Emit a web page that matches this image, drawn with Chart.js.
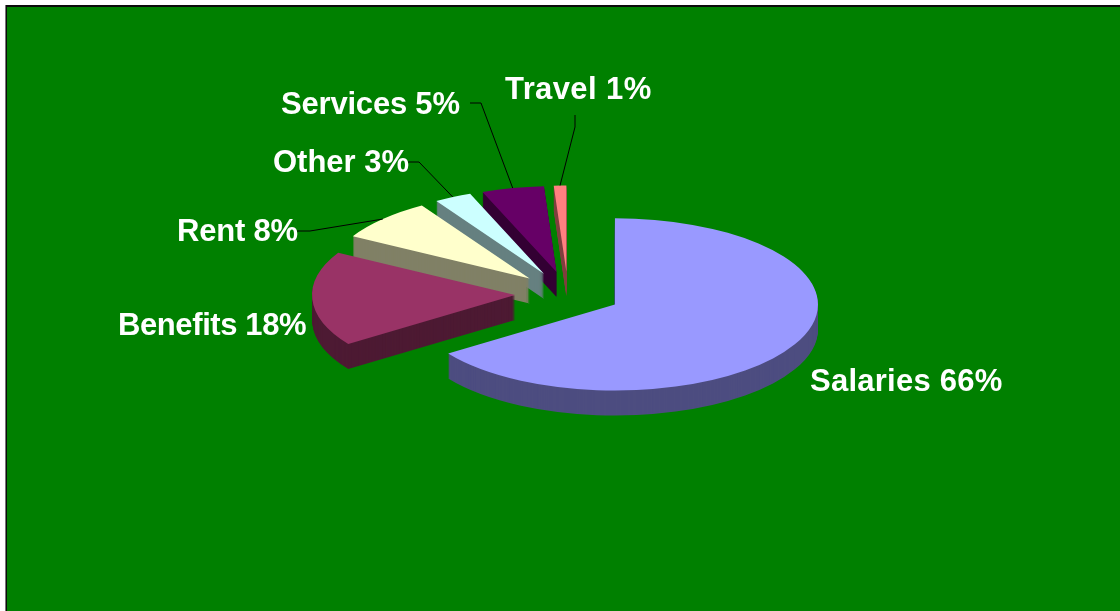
<!DOCTYPE html>
<html>
<head>
<meta charset="utf-8">
<style>
html, body { margin: 0; background: #fff; overflow: hidden; }
#panel { position: absolute; left: 6px; top: 5px; width: 1120px; height: 611px; background: #008000; border-left: 1px solid #0b0b0b; border-top: 2px solid #0b0b0b; box-shadow: -1px 0 0 #777; }
#chart { position: absolute; left: 0; top: 0; }
</style>
<script src="https://cdn.jsdelivr.net/npm/chart.js@4"></script>
</head>
<body>
<div id="panel"></div>
<canvas id="chart" width="1120" height="611"></canvas>
<script>
// data
var categories = ['Salaries', 'Benefits', 'Rent', 'Other', 'Services', 'Travel'];
var percents = [66, 18, 8, 3, 5, 1];
var topColors = ['#9999ff', '#993366', '#ffffcc', '#ccffff', '#660066', '#ff8080'];
var sideColors = ['#4d4d80', '#4d1a33', '#808066', '#668080', '#330033', '#804040'];

// label placement (left edge, baseline), and elbow of the leader line if it has one
var labelX = [810, 118, 177, 273, 281, 505];
var labelY = [391, 335, 241, 172, 114, 99];
var labelSpacing = [0.25, -0.4, -0.2, 0, -0.2, 0.4];
var leaderFrom = [null, null, [297, 231], [408, 162], [470, 103], [575, 115]];
var leaderElbow = [null, null, [310, 231], [419, 162], [481, 103], [575, 127]];

// fake 3D: tilt squashes the flat pie, depth is the wall height in screen pixels
var tilt = 0.424;
var depth = 25;
var centerY = 294;
// Chart.js' own arc offset narrows the slices, so the explode is done here
var explode = 53;

function drawExploded(ctx, arc, dy) {
  var mid = (arc.startAngle + arc.endAngle) / 2;
  ctx.save();
  ctx.translate(Math.cos(mid) * explode, Math.sin(mid) * explode + dy);
  arc.draw(ctx);
  ctx.restore();
}

var pie3d = {
  id: 'pie3d',
  beforeDatasetsDraw: function(chart) {
    var ctx = chart.ctx;
    var arcs = chart.getDatasetMeta(0).data;
    var i;

    ctx.save();
    ctx.translate(0, centerY);
    ctx.scale(1, tilt);
    ctx.translate(0, -arcs[0].y);

    // walls first, back slices before front ones
    for (i = arcs.length - 1; i >= 0; i--) {
      var keep = arcs[i].options;
      arcs[i].options = Object.assign({}, keep, {backgroundColor: sideColors[i]});
      for (var d = depth; d > 0; d--) {
        drawExploded(ctx, arcs[i], d / tilt);
      }
      arcs[i].options = keep;
    }
    for (i = 0; i < arcs.length; i++) {
      drawExploded(ctx, arcs[i], 0);
    }
    ctx.restore();

    // leader lines end on the rim, at the middle of each slice
    ctx.save();
    ctx.strokeStyle = '#000';
    ctx.lineWidth = 1;
    arcs.forEach(function(arc, i) {
      if (!leaderFrom[i]) return;
      var mid = (arc.startAngle + arc.endAngle) / 2;
      var rimX = arc.x + Math.cos(mid) * (arc.outerRadius + explode);
      var rimY = centerY + Math.sin(mid) * (arc.outerRadius + explode) * tilt;
      ctx.beginPath();
      ctx.moveTo(leaderFrom[i][0], leaderFrom[i][1]);
      ctx.lineTo(leaderElbow[i][0], leaderElbow[i][1]);
      ctx.lineTo(rimX, rimY);
      ctx.stroke();
    });

    ctx.fillStyle = '#fff';
    ctx.font = 'bold 31px "Liberation Sans"';
    ctx.textAlign = 'left';
    ctx.textBaseline = 'alphabetic';
    categories.forEach(function(name, i) {
      ctx.letterSpacing = labelSpacing[i] + 'px';
      ctx.fillText(name + ' ' + percents[i] + '%', labelX[i], labelY[i]);
    });
    ctx.restore();

    // everything is painted, skip the default dataset pass
    return false;
  }
};

new Chart(document.getElementById('chart').getContext('2d'), {
  type: 'pie',
  plugins: [pie3d],
  data: {
    labels: categories,
    datasets: [{
      data: percents,
      backgroundColor: topColors,
      borderWidth: 0,
      radius: 203
    }]
  },
  options: {
    responsive: false,
    animation: false,
    events: [],
    layout: {padding: {left: 16}},
    plugins: {legend: {display: false}, tooltip: {enabled: false}}
  }
});
</script>
</body>
</html>
